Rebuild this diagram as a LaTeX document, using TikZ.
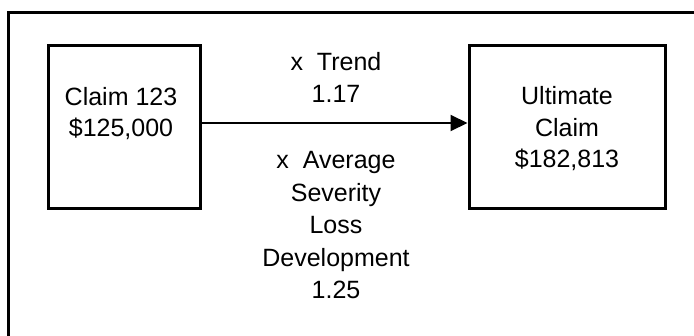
\documentclass[tikz,border=0pt]{standalone}
\usepackage{fontspec}
\setmainfont{Liberation Sans}
\usetikzlibrary{arrows.meta}
% centred stack of lines; #1 scales the line pitch
\newcommand\txtblock[2]{{\renewcommand\arraystretch{#1}\setlength\tabcolsep{0pt}\begin{tabular}[t]{c}#2\end{tabular}}}
\begin{document}
\begin{tikzpicture}[x=1pt, y=-1pt,
  box/.style={draw, line width=3pt, minimum width=#1, minimum height=163pt, inner sep=0pt},
  lbl/.style={anchor=base, inner sep=0pt, font=\fontsize{25}{32}\selectfont},
  flow/.style={line width=2pt, -{Triangle[length=17pt,width=16pt]}},
  frame/.style={line width=3pt}]
\useasboundingbox (0,0) rectangle (694,335);
\clip (0,0) rectangle (694,335);
% outer frame, running off the right and bottom edges
\draw[frame] (8,345) -- (8,12.5) -- (705,12.5);
% the two claim boxes
\node[box=152pt] (claim) at (124.5,127) {};
\node[box=196pt] (ult) at (567,127) {};
\node[lbl] (claimtxt) at (121,105) {\txtblock{0.985}{Claim 123\\ \$125,000}};
\node[lbl] (ulttxt) at (567,104.5) {\txtblock{0.985}{Ultimate\\ Claim\\ \$182,813}};
% factor arrow
\coordinate (ay) at (0,123);
\draw[flow] (claim.east |- ay) -- (ult.west |- ay);
% factor labels
\node[lbl] (trend) at (336,70) {\txtblock{1.031}{x~~Trend\\ 1.17}};
\node[lbl] (sev) at (336,168.5) {\txtblock{1.019}{x~~Average\\ Severity\\ Loss\\ Development\\ 1.25}};
\end{tikzpicture}
\end{document}
